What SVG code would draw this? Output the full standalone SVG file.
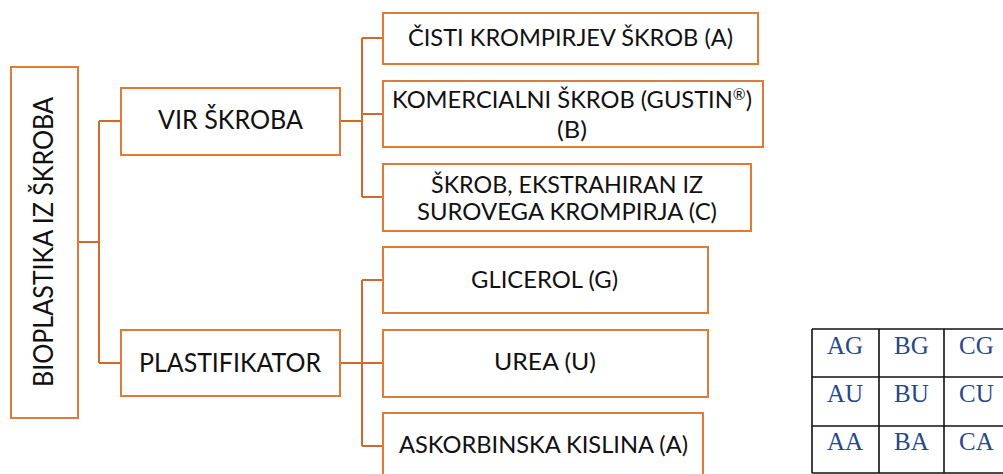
<svg xmlns="http://www.w3.org/2000/svg" width="1003" height="474" viewBox="0 0 1003 474">
<style>
.box{fill:#fff;stroke:#E07A37;stroke-width:2}
.con{fill:none;stroke:#CF6A2D;stroke-width:2}
.t{font-family:Lato,"Open Sans","Liberation Sans",sans-serif;fill:#111;text-anchor:middle}
.big{font-size:26.5px}
.sm{font-size:23px}
.grid{fill:none;stroke:#111;stroke-width:1.6}
.tt{font-family:"Liberation Serif","Times New Roman",serif;font-size:25px;fill:#27478A}
</style>
<rect width="1003" height="474" fill="#fff"/>
<g id="connectors">
<path class="con" d="M78,242 H99 M99,121 V363 M99,121 H121 M99,363 H121"/>
<path class="con" d="M340,121 H362 M362,38 V197 M362,38 H383 M362,114 H383 M362,197 H383"/>
<path class="con" d="M340,363 H362 M362,280 V446 M362,280 H383 M362,363 H383 M362,446 H383"/>
</g>
<g id="root">
<rect class="box" x="11" y="67" width="67" height="351"/>
<text class="t" font-size="27" transform="translate(53,242) rotate(-90)" textLength="290" lengthAdjust="spacingAndGlyphs">BIOPLASTIKA IZ ŠKROBA</text>
</g>
<g id="vir">
<rect class="box" x="121" y="88" width="219" height="67"/>
<text class="t big" x="230.5" y="129" textLength="145" lengthAdjust="spacingAndGlyphs">VIR ŠKROBA</text>
</g>
<g id="plastifikator">
<rect class="box" x="121" y="330" width="219" height="66"/>
<text class="t big" x="230" y="372" textLength="182" lengthAdjust="spacingAndGlyphs">PLASTIFIKATOR</text>
</g>
<g id="skrobA">
<rect class="box" x="383" y="13" width="375" height="51"/>
<text class="t sm" x="570.5" y="46" textLength="325" lengthAdjust="spacingAndGlyphs">ČISTI KROMPIRJEV ŠKROB (A)</text>
</g>
<g id="skrobB">
<rect class="box" x="383" y="81" width="380" height="66"/>
<text class="t sm" x="572" y="108" textLength="360" lengthAdjust="spacingAndGlyphs">KOMERCIALNI ŠKROB (GUSTIN<tspan font-size="15" dy="-8">®</tspan><tspan dy="8">)</tspan></text>
<text class="t sm" x="572" y="138" textLength="30" lengthAdjust="spacingAndGlyphs">(B)</text>
</g>
<g id="skrobC">
<rect class="box" x="383" y="164" width="368" height="67"/>
<text class="t sm" x="567" y="193" textLength="272" lengthAdjust="spacingAndGlyphs">ŠKROB, EKSTRAHIRAN IZ</text>
<text class="t sm" x="567" y="220" textLength="300" lengthAdjust="spacingAndGlyphs">SUROVEGA KROMPIRJA (C)</text>
</g>
<g id="glicerol">
<rect class="box" x="383" y="247" width="325" height="66"/>
<text class="t sm" x="544.5" y="288" textLength="147" lengthAdjust="spacingAndGlyphs">GLICEROL (G)</text>
</g>
<g id="urea">
<rect class="box" x="383" y="330" width="325" height="67"/>
<text class="t sm" x="545" y="370" textLength="102" lengthAdjust="spacingAndGlyphs">UREA (U)</text>
</g>
<g id="askorbinska">
<rect class="box" x="383" y="413" width="320" height="66"/>
<text class="t sm" x="543.5" y="453" textLength="289" lengthAdjust="spacingAndGlyphs">ASKORBINSKA KISLINA (A)</text>
</g>
<g id="table">
<path class="grid" d="M812,329 H1010 M812,377 H1010 M812,426 H1010 M812,473 H1010 M812,329 V473 M879,329 V473 M944,329 V473"/>
<text class="tt" x="827" y="354">AG</text>
<text class="tt" x="894" y="354">BG</text>
<text class="tt" x="959" y="354">CG</text>
<text class="tt" x="827" y="402">AU</text>
<text class="tt" x="894" y="402">BU</text>
<text class="tt" x="959" y="402">CU</text>
<text class="tt" x="827" y="450">AA</text>
<text class="tt" x="894" y="450">BA</text>
<text class="tt" x="959" y="450">CA</text>
</g>
</svg>
